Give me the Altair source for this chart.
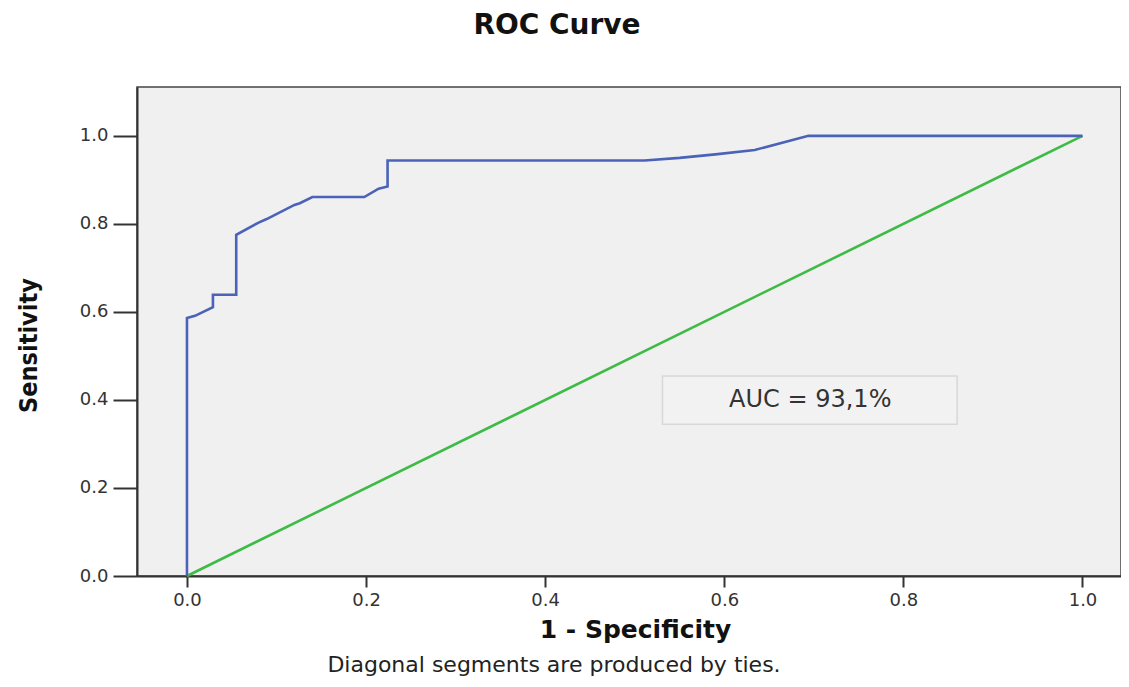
import altair as alt
import pandas as pd

# ROC curve points
fpr = [0.0, 0.0, 0.009, 0.029, 0.029, 0.055, 0.055, 0.080, 0.089, 0.120, 0.126,
       0.140, 0.198, 0.214, 0.224, 0.224, 0.511, 0.550, 0.590, 0.634, 0.694, 1.0]
tpr = [0.0, 0.586, 0.591, 0.611, 0.639, 0.639, 0.775, 0.803, 0.811, 0.843, 0.847,
       0.861, 0.861, 0.880, 0.885, 0.944, 0.944, 0.950, 0.958, 0.968, 1.0, 1.0]

# reference (chance) diagonal
diag_x = [0.0, 1.0]
diag_y = [0.0, 1.0]

tick_values = [0.0, 0.2, 0.4, 0.6, 0.8, 1.0]
auc_label = "AUC = 93,1%"
title_text = "ROC Curve"
footnote_text = "Diagonal segments are produced by ties."

roc = pd.DataFrame({"fpr": fpr, "tpr": tpr, "order": list(range(len(fpr)))})
diag = pd.DataFrame({"fpr": diag_x, "tpr": diag_y, "order": [0, 1]})

FONT = "DejaVu Sans"
xscale = alt.Scale(domain=[-0.0558, 1.043], nice=False, zero=False)
yscale = alt.Scale(domain=[0.0, 1.111], nice=False, zero=False)

xaxis = alt.Axis(
    values=tick_values, format=".1f", grid=False, title="1 - Specificity",
    labelFont=FONT, labelFontSize=18, labelColor="#333333", labelPadding=4,
    tickColor="#333333", tickSize=11, tickWidth=2,
    domainColor="#333333", domainWidth=2,
    titleFont=FONT, titleFontSize=25, titleFontWeight="bold", titleColor="#111111",
    titleX=498, titleY=61, titleBaseline="alphabetic", titleAlign="center",
)
yaxis = alt.Axis(
    values=tick_values, format=".1f", grid=False, title="Sensitivity",
    labelFont=FONT, labelFontSize=18, labelColor="#333333", labelPadding=5,
    tickColor="#333333", tickSize=24, tickWidth=2,
    domainColor="#333333", domainWidth=2,
    titleFont="DejaVu Sans Condensed, Liberation Sans Narrow, Liberation Sans",
    titleFontSize=25, titleFontWeight="bold",
    titleColor="#111111",
    titleX=-109, titleY=258, titleBaseline="middle", titleAlign="center", titleAngle=270,
)

base_x = alt.X("fpr:Q", scale=xscale, axis=xaxis)
base_y = alt.Y("tpr:Q", scale=yscale, axis=yaxis)

diag_line = alt.Chart(diag).mark_line(color="#3dbb45", strokeWidth=2.6).encode(
    x=base_x, y=base_y, order="order:Q"
)
roc_line = alt.Chart(roc).mark_line(color="#4a63b8", strokeWidth=2.6).encode(
    x=base_x, y=base_y, order="order:Q"
)

box = alt.Chart(pd.DataFrame({"a": [0]})).mark_rect(
    fill="#f2f2f2", stroke="#d8d8d8", strokeWidth=1.5
).encode(
    x=alt.datum(0.531), x2=alt.datum(0.860),
    y=alt.datum(0.345), y2=alt.datum(0.4545),
)
box_text = alt.Chart(pd.DataFrame({"t": [auc_label]})).mark_text(
    font=FONT, fontSize=24, color="#333333", align="center", baseline="middle"
).encode(
    x=alt.datum(0.696), y=alt.datum(0.40), text="t:N"
)

footnote = alt.Chart(pd.DataFrame({"t": [footnote_text]})).mark_text(
    font=FONT, fontSize=22, color="#222222", align="center", baseline="middle", clip=False
).encode(
    x=alt.value(417), y=alt.value(578), text="t:N"
)

title = alt.Chart(pd.DataFrame({"t": [title_text]})).mark_text(
    font=FONT, fontSize=28, fontWeight="bold", color="#111111",
    align="center", baseline="middle", clip=False
).encode(
    x=alt.value(420), y=alt.value(-61), text="t:N"
)

chart = alt.layer(diag_line, roc_line, box, box_text, footnote, title).properties(
    width=984,
    height=489,
    background="white",
    autosize=alt.AutoSizeParams(type="none"),
    padding={"left": 129, "top": 79, "right": 0, "bottom": 102},
).configure_view(
    fill="#f0f0f0", stroke="#444444", strokeWidth=1.5
)

chart.save("out.html", embed_options={"renderer": "svg", "actions": False})
